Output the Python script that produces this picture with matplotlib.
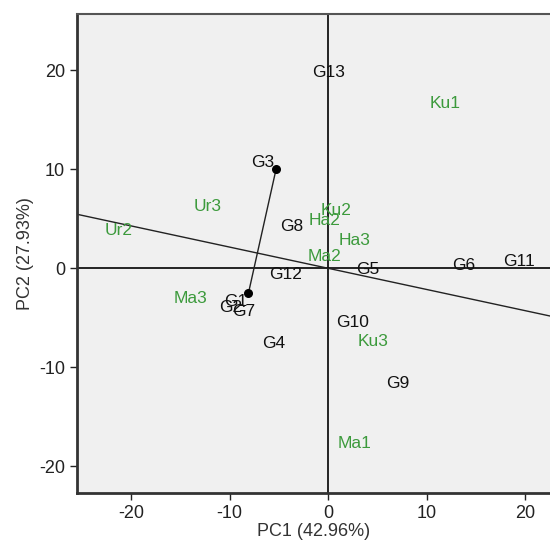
import matplotlib.pyplot as plt

plt.rcParams['font.family'] = ['Liberation Sans', 'DejaVu Sans']
plt.rcParams['axes.unicode_minus'] = False

# genotype scores (black labels)
geno = ['G1', 'G2', 'G3', 'G4', 'G5', 'G6', 'G7', 'G8', 'G9', 'G10', 'G11', 'G12', 'G13']
geno_x = [-9.4, -9.9, -6.7, -5.5, 4.0, 13.7, -8.6, -3.7, 7.1, 2.5, 19.4, -4.3, 0.0]
geno_y = [-3.4, -4.0, 10.7, -7.6, -0.1, 0.3, -4.4, 4.2, -11.6, -5.5, 0.7, -0.6, 19.8]

# environment scores (green labels)
env = ['Ku1', 'Ku2', 'Ku3', 'Ha2', 'Ha3', 'Ma1', 'Ma2', 'Ma3', 'Ur2', 'Ur3']
env_x = [11.9, 0.8, 4.5, -0.4, 2.7, 2.7, -0.4, -14.0, -21.3, -12.2]
env_y = [16.6, 5.8, -7.4, 4.8, 2.8, -17.7, 1.2, -3.0, 3.8, 6.2]

# average environment axis (slope through origin) and its perpendicular segment
axis_slope = -0.214
seg_x = [-5.3, -8.1]
seg_y = [10.0, -2.5]

fig, ax = plt.subplots(figsize=(5.5, 5.51), dpi=100)
fig.subplots_adjust(left=0.14, right=1.0, bottom=0.105, top=0.975)
ax.set_facecolor('#f0f0f0')

ax.axhline(0, color='black', lw=1.2)
ax.axvline(0, color='black', lw=1.2)
ax.axline((0, 0), slope=axis_slope, color='#222222', lw=1.0)
ax.plot(seg_x, seg_y, color='#222222', lw=1.0)
ax.scatter(seg_x, seg_y, color='black', s=30, zorder=3)

for name, x, y in zip(geno, geno_x, geno_y):
    ax.text(x, y, name, color='#111111', fontsize=12.5, ha='center', va='center')
for name, x, y in zip(env, env_x, env_y):
    ax.text(x, y, name, color='#3c9a3c', fontsize=12.5, ha='center', va='center')

ax.set_xlim(-25.5, 22.5)
ax.set_ylim(-22.7, 25.7)
ax.set_xticks([-20, -10, 0, 10, 20])
ax.set_yticks([-20, -10, 0, 10, 20])
ax.tick_params(labelsize=13, colors='#222222', length=5, width=1)
for s in ['left', 'bottom']:
    ax.spines[s].set_linewidth(2)
    ax.spines[s].set_color('#333333')
ax.spines['top'].set_linewidth(1.5)
ax.spines['top'].set_color('#555555')
ax.spines['right'].set_visible(False)

ax.set_xlabel('PC1 (42.96%)', fontsize=13, labelpad=1, color='#333333')
ax.set_ylabel('PC2 (27.93%)', fontsize=13, labelpad=4, color='#333333')

fig.savefig('out.png')
